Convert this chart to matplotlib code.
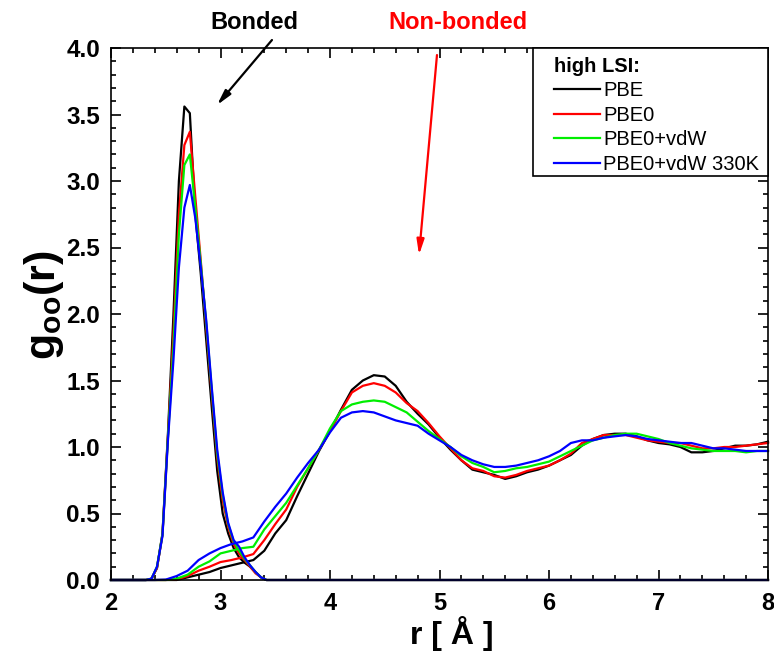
import matplotlib
matplotlib.use("Agg")
import matplotlib.pyplot as plt
from matplotlib.ticker import MultipleLocator
from matplotlib.lines import Line2D
from matplotlib.patches import Rectangle

plt.rcParams['font.family'] = ['Liberation Sans', 'DejaVu Sans']
plt.rcParams['mathtext.fontset'] = 'custom'
plt.rcParams['mathtext.rm'] = 'Liberation Sans'
plt.rcParams['mathtext.bf'] = 'Liberation Sans:bold'

# ---------------- data ----------------
series_names = ["PBE", "PBE0", "PBE0+vdW", "PBE0+vdW 330K"]
series_colors = ["#000000", "#ff0000", "#00ee00", "#0000ff"]

# bonded O-O pair distribution
r_bonded = [2.00, 2.32, 2.37, 2.42, 2.47, 2.52, 2.57, 2.62, 2.67, 2.72, 2.77, 2.82,
            2.87, 2.92, 2.97, 3.02, 3.07, 3.12, 3.17, 3.22, 3.27, 3.32, 3.37, 3.42, 8.00]
g_bonded_pbe = [0, 0, 0.01, 0.09, 0.35, 1.10, 1.99, 3.00, 3.56, 3.51, 2.75, 2.30,
                1.80, 1.30, 0.82, 0.50, 0.35, 0.24, 0.17, 0.13, 0.10, 0.06, 0.02, 0, 0]
g_bonded_pbe0 = [0, 0, 0.01, 0.09, 0.34, 1.08, 1.85, 2.75, 3.27, 3.37, 2.88, 2.40,
                 1.90, 1.40, 0.92, 0.60, 0.40, 0.27, 0.20, 0.15, 0.10, 0.05, 0.02, 0, 0]
g_bonded_vdw = [0, 0, 0.01, 0.10, 0.34, 1.07, 1.75, 2.60, 3.12, 3.20, 2.80, 2.38,
                1.93, 1.43, 0.95, 0.64, 0.42, 0.29, 0.22, 0.16, 0.11, 0.06, 0.02, 0, 0]
g_bonded_330 = [0, 0, 0.01, 0.10, 0.33, 1.05, 1.65, 2.35, 2.80, 2.97, 2.72, 2.35,
                1.95, 1.45, 0.98, 0.66, 0.43, 0.30, 0.25, 0.17, 0.11, 0.06, 0.02, 0, 0]

# non-bonded O-O pair distribution
r_nonbonded = [2.0, 2.1, 2.2, 2.3, 2.4, 2.5, 2.6, 2.7, 2.8, 2.9, 3.0, 3.1, 3.2, 3.3,
               3.4, 3.5, 3.6, 3.7, 3.8, 3.9, 4.0, 4.1, 4.2, 4.3, 4.4, 4.5, 4.6, 4.7,
               4.8, 4.9, 5.0, 5.1, 5.2, 5.3, 5.4, 5.5, 5.6, 5.7, 5.8, 5.9, 6.0, 6.1,
               6.2, 6.3, 6.4, 6.5, 6.6, 6.7, 6.8, 6.9, 7.0, 7.1, 7.2, 7.3, 7.4, 7.5,
               7.6, 7.7, 7.8, 7.9, 8.0]
g_nb_pbe = [0, 0, 0, 0, 0, 0, 0, 0.02, 0.04, 0.06, 0.09, 0.11, 0.13, 0.15,
            0.22, 0.35, 0.45, 0.63, 0.80, 0.97, 1.12, 1.28, 1.43, 1.50, 1.54, 1.53, 1.46, 1.34,
            1.25, 1.17, 1.07, 0.98, 0.90, 0.83, 0.81, 0.79, 0.76, 0.78, 0.81, 0.83, 0.86, 0.90,
            0.94, 1.01, 1.06, 1.09, 1.10, 1.10, 1.08, 1.05, 1.03, 1.02, 1.00, 0.96, 0.96, 0.97,
            0.99, 1.01, 1.01, 1.02, 1.04]
g_nb_pbe0 = [0, 0, 0, 0, 0, 0, 0.005, 0.03, 0.07, 0.10, 0.135, 0.15, 0.17, 0.195,
             0.30, 0.42, 0.53, 0.70, 0.84, 0.98, 1.12, 1.27, 1.41, 1.46, 1.48, 1.46, 1.41, 1.33,
             1.27, 1.18, 1.08, 0.99, 0.90, 0.84, 0.82, 0.78, 0.77, 0.79, 0.82, 0.84, 0.86, 0.90,
             0.95, 1.03, 1.06, 1.09, 1.09, 1.09, 1.07, 1.05, 1.04, 1.03, 1.03, 1.01, 0.99, 0.99,
             1.00, 1.00, 1.01, 1.02, 1.03]
g_nb_vdw = [0, 0, 0, 0, 0, 0, 0.01, 0.04, 0.10, 0.14, 0.20, 0.22, 0.24, 0.25,
            0.38, 0.48, 0.58, 0.71, 0.84, 0.98, 1.14, 1.27, 1.32, 1.34, 1.35, 1.34, 1.30, 1.26,
            1.19, 1.12, 1.06, 1.00, 0.93, 0.88, 0.85, 0.81, 0.82, 0.84, 0.85, 0.87, 0.89, 0.93,
            0.97, 1.01, 1.05, 1.07, 1.09, 1.10, 1.10, 1.08, 1.06, 1.03, 1.01, 0.99, 0.98, 0.97,
            0.97, 0.97, 0.96, 0.97, 0.97]
g_nb_330 = [0, 0, 0, 0, 0, 0.003, 0.03, 0.07, 0.15, 0.20, 0.24, 0.27, 0.29, 0.32,
            0.44, 0.55, 0.65, 0.77, 0.88, 0.98, 1.11, 1.22, 1.26, 1.27, 1.26, 1.23, 1.20, 1.18,
            1.16, 1.10, 1.05, 1.00, 0.94, 0.90, 0.87, 0.85, 0.85, 0.86, 0.88, 0.90, 0.93, 0.97,
            1.03, 1.05, 1.05, 1.07, 1.08, 1.09, 1.08, 1.06, 1.05, 1.04, 1.03, 1.03, 1.01, 0.99,
            0.99, 0.98, 0.97, 0.97, 0.97]

bonded = [g_bonded_pbe, g_bonded_pbe0, g_bonded_vdw, g_bonded_330]
nonbonded = [g_nb_pbe, g_nb_pbe0, g_nb_vdw, g_nb_330]

legend_title = "high LSI:"
xlabel = "r [ Å ]"
ylabel = r"$\mathbf{g_{oo}(r)}$"

# ---------------- figure ----------------
fig = plt.figure(figsize=(7.74, 6.59), dpi=100)
ax = fig.add_axes([111 / 774, 1 - 580 / 659, (768 - 111) / 774, (580 - 48) / 659])

for gb, gn, c in zip(bonded, nonbonded, series_colors):
    ax.plot(r_bonded, gb, color=c, lw=1.6, clip_on=False, zorder=2)
    ax.plot(r_nonbonded, gn, color=c, lw=1.6, clip_on=False, zorder=2)

ax.set_xlim(2, 8)
ax.set_ylim(0, 4)
ax.xaxis.set_major_locator(MultipleLocator(1))
ax.xaxis.set_minor_locator(MultipleLocator(0.2))
ax.yaxis.set_major_locator(MultipleLocator(0.5))
ax.yaxis.set_minor_locator(MultipleLocator(0.1))
ax.tick_params(which='both', direction='in', top=True, right=True, width=1.2)
ax.tick_params(which='major', length=7)
ax.tick_params(which='minor', length=3.8)
ax.tick_params(axis='y', which='major', pad=8, labelsize=17.5)
ax.tick_params(axis='x', which='major', pad=9, labelsize=17)
for s in ax.spines.values():
    s.set_linewidth(1.2)
    s.set_zorder(3)

for lab in ax.get_yticklabels() + ax.get_xticklabels():
    lab.set_fontweight('bold')

ax.set_xlabel(xlabel, fontsize=23, fontweight='bold')
ax.xaxis.set_label_coords((452 - 111) / 657, -0.068)
ax.set_ylabel(ylabel, fontsize=31)
ax.yaxis.set_label_coords((66 - 111) / 657, (580 - 305) / 532)

# legend (frame drawn separately)
handles = [Line2D([], [], color=c, lw=1.6) for c in series_colors]
leg = ax.legend(handles, series_names, title=legend_title, loc='upper right',
                bbox_to_anchor=(1, 1), borderaxespad=0, frameon=False,
                fontsize=14.5, handlelength=2.3,
                handletextpad=0.15, labelspacing=0.27, borderpad=0.45,
                title_fontproperties={'weight': 'bold', 'size': 14.5})
leg._legend_box.align = "left"
leg.set_zorder(5)
ax.add_patch(Rectangle(((533 - 111) / 657, (580 - 176) / 532),
                       (768 - 533) / 657, (176 - 48) / 532,
                       transform=ax.transAxes, facecolor='white',
                       edgecolor='black', lw=1.2, zorder=4, clip_on=False))

# annotations
ax.text(3.306, 4.195, "Bonded", fontsize=17, fontweight='bold', color='black',
        ha='center', va='center', clip_on=False)
ax.text(5.169, 4.195, "Non-bonded", fontsize=17, fontweight='bold', color='red',
        ha='center', va='center', clip_on=False)
ax.annotate("", xy=(2.968, 3.571), xytext=(3.47, 4.06), annotation_clip=False,
            arrowprops=dict(arrowstyle='-|>,head_length=0.9,head_width=0.22',
                            color='black', lw=1.6, shrinkA=0, shrinkB=0))
ax.annotate("", xy=(4.813, 2.444), xytext=(4.977, 3.947), annotation_clip=False,
            arrowprops=dict(arrowstyle='-|>,head_length=0.9,head_width=0.22',
                            color='red', lw=1.6, shrinkA=0, shrinkB=0))

fig.savefig("out.png", dpi=100)
